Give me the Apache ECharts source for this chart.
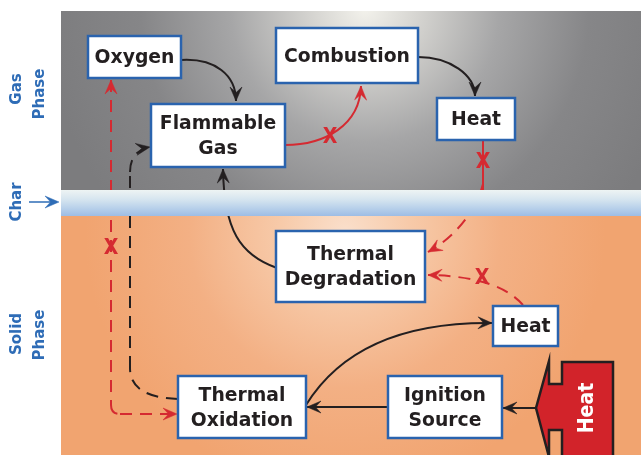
<!DOCTYPE html>
<html><head><meta charset="utf-8">
<script src="https://cdn.jsdelivr.net/npm/echarts@6/dist/echarts.min.js"></script>
<style>html,body{margin:0;padding:0;background:#fff}#c{width:641px;height:455px}</style>
</head><body><div id="c"></div><script>
// ---- diagram data ----
const phases = ['gas', 'char', 'solid'];
const phaseTop = [11, 190, 216];
const phaseBottom = [190, 216, 455];
const panelLeft = 61, panelRight = 641;

const boxNames = ['Oxygen', 'Flammable\nGas', 'Combustion', 'Heat', 'Thermal\nDegradation', 'Heat', 'Thermal\nOxidation', 'Ignition\nSource'];
const boxLeft = [88, 151, 276, 437, 276, 493, 178, 388];
const boxTop = [36, 104, 28, 98, 231, 306, 376, 376];
const boxRight = [181, 285, 418, 515, 425, 558, 306, 502];
const boxBottom = [78, 167, 83, 140, 302, 346, 438, 438];

const sideText = ['Gas', 'Phase', 'Char', 'Solid', 'Phase'];
const sideX = [17, 40, 17, 17, 40];
const sideY = [89, 94, 202, 334, 335];
const charPointer = [[29, 202], [59, 202]];

// connectors: kind, path segments (2 pts line, 3 quad, 4 cubic), arrowheads
const connectors = [
  { kind: 'flow', segs: [[[181, 60], [215, 58], [236, 75], [236, 101]]], heads: ['end'] },
  { kind: 'flow', segs: [[[418, 57], [450, 57], [475, 75], [475, 96]]], heads: ['end'] },
  { kind: 'blocked', segs: [[[285, 145], [325, 145], [360, 125], [361, 86]]], heads: ['end'] },
  { kind: 'blocked', segs: [[[483, 140], [483, 192]]], heads: [] },
  { kind: 'blockedDashed', segs: [[[483, 184], [478, 203], [462, 233], [428, 252]]], heads: ['end'] },
  { kind: 'blockedDashed', segs: [[[523, 305], [508, 288], [480, 276], [428, 275]]], heads: ['end'] },
  { kind: 'flow', segs: [[[277, 268], [240, 255], [224, 230], [223, 169]]], heads: ['end'] },
  { kind: 'flow', segs: [[[306, 405], [340, 350], [400, 322], [492, 323]]], heads: ['end'] },
  { kind: 'flow', segs: [[[389, 407], [307, 407]]], heads: ['end'] },
  { kind: 'flow', segs: [[[536, 408], [503, 408]]], heads: ['end'] },
  { kind: 'blockedDashed', segs: [[[111, 80], [111, 405]], [[111, 405], [111, 414], [120, 414]], [[120, 414], [177, 414]]], heads: ['start', 'end'] },
  { kind: 'flowDashed', segs: [[[178, 399], [150, 398], [130, 390], [130, 368]], [[130, 368], [130, 172]], [[130, 172], [130, 157], [138, 149], [150, 147]]], heads: ['end'] }
];

const blockX = [330, 483, 482, 111];
const blockY = [137, 162, 278, 248];

const bigHeatLabel = 'Heat';
const bigHeatX = [536, 549, 549, 562, 562, 613, 613, 562, 562, 549, 549];
const bigHeatY = [408, 361, 384, 384, 362, 362, 457, 457, 430, 430, 457];
const bigHeatTextPos = [588, 408];

// ---- styles ----
const RED = '#d52a31', BLACK = '#231f20', BLUE = '#2a63ae', LABEL_BLUE = '#2e6cb6';
const kindStyle = {
  flow: { color: BLACK, dash: null, width: 2 },
  flowDashed: { color: BLACK, dash: [12, 8], width: 2 },
  blocked: { color: RED, dash: null, width: 2 },
  blockedDashed: { color: RED, dash: [12, 8], width: 2 }
};
const FONT_FAMILY = '"DejaVu Sans", sans-serif';
const TEXT_STRETCH = 1.07;

const chart = echarts.init(document.getElementById('c'), null, { renderer: 'canvas' });

function arrowHead(tip, from, color) {
  let dx = tip[0] - from[0], dy = tip[1] - from[1];
  const len = Math.hypot(dx, dy) || 1; dx /= len; dy /= len;
  const nx = -dy, ny = dx, L = 14, W = 12;
  return {
    type: 'polygon',
    shape: { points: [
      tip,
      [tip[0] - dx * L + nx * W / 2, tip[1] - dy * L + ny * W / 2],
      [tip[0] - dx * L * 0.6, tip[1] - dy * L * 0.6],
      [tip[0] - dx * L - nx * W / 2, tip[1] - dy * L - ny * W / 2]
    ] },
    style: { fill: color, stroke: color, lineWidth: 0.5 }
  };
}

function segEl(p, st) {
  let shape, type;
  if (p.length === 2) { type = 'line'; shape = { x1: p[0][0], y1: p[0][1], x2: p[1][0], y2: p[1][1] }; }
  else if (p.length === 3) { type = 'bezierCurve'; shape = { x1: p[0][0], y1: p[0][1], cpx1: p[1][0], cpy1: p[1][1], x2: p[2][0], y2: p[2][1] }; }
  else { type = 'bezierCurve'; shape = { x1: p[0][0], y1: p[0][1], cpx1: p[1][0], cpy1: p[1][1], cpx2: p[2][0], cpy2: p[2][1], x2: p[3][0], y2: p[3][1] }; }
  return { type, shape, style: { stroke: st.color, lineWidth: st.width, lineDash: st.dash, fill: null, lineCap: 'butt' } };
}

const option = {
  animation: false,
  backgroundColor: '#ffffff',
  grid: { left: 0, right: 0, top: 0, bottom: 0 },
  xAxis: { type: 'value', min: 0, max: 641, show: false },
  yAxis: { type: 'value', min: 0, max: 455, inverse: true, show: false },
  series: [
    { // phase backgrounds
      type: 'custom', z: 1, silent: true,
      data: phases.filter(p => p !== 'char').map(p => [panelLeft, phaseTop[phases.indexOf(p)], phases.indexOf(p)]),
      renderItem(params, api) {
        const i = api.value(2);
        const a = api.coord([panelLeft, phaseTop[i]]), b = api.coord([panelRight, phaseBottom[i]]);
        let fill;
        if (phases[i] === 'gas') {
          const c = api.coord([365, 8]);
          fill = new echarts.graphic.RadialGradient(c[0], c[1], 320, [
            { offset: 0, color: '#f3f2ec' }, { offset: 0.15, color: '#d8d7d3' },
            { offset: 0.42, color: '#a6a6a7' }, { offset: 0.7, color: '#868688' }, { offset: 1, color: '#7c7c7e' }], true);
        } else {
          const c = api.coord([345, 232]);
          fill = new echarts.graphic.RadialGradient(c[0], c[1], 260, [
            { offset: 0, color: '#fadfcb' }, { offset: 0.25, color: '#f7caa9' },
            { offset: 0.6, color: '#f3b084' }, { offset: 1, color: '#f1a470' }], true);
        }
        return { type: 'rect', shape: { x: a[0], y: a[1], width: b[0] - a[0], height: b[1] - a[1] }, style: { fill } };
      }
    },
    { // connectors
      type: 'custom', z: 2, silent: true,
      data: connectors.map((c, i) => [c.segs[0][0][0], c.segs[0][0][1], i]),
      renderItem(params, api) {
        const c = connectors[api.value(2)];
        const st = kindStyle[c.kind];
        const children = [];
        const segsPx = c.segs.map(s => s.map(pt => api.coord(pt)));
        segsPx.forEach(p => children.push(segEl(p, st)));
        c.heads.forEach(h => {
          if (h === 'end') { const s = segsPx[segsPx.length - 1]; children.push(arrowHead(s[s.length - 1], s[s.length - 2], st.color)); }
          else { const s = segsPx[0]; children.push(arrowHead(s[0], s[1], st.color)); }
        });
        return { type: 'group', children };
      }
    },
    { // char band
      type: 'custom', z: 3, silent: true,
      data: [[panelLeft, phaseTop[1], 1]],
      renderItem(params, api) {
        const i = api.value(2);
        const a = api.coord([panelLeft, phaseTop[i]]), b = api.coord([panelRight, phaseBottom[i]]);
        return { type: 'rect', shape: { x: a[0], y: a[1], width: b[0] - a[0], height: b[1] - a[1] },
          style: { fill: new echarts.graphic.LinearGradient(0, 0, 0, 1, [
            { offset: 0, color: '#eef4f4' }, { offset: 0.4, color: '#d3e3ef' }, { offset: 1, color: '#9dbde5' }]) } };
      }
    },
    { // blocked marks
      type: 'custom', z: 4, silent: true,
      data: blockX.map((x, i) => [x, blockY[i]]),
      renderItem(params, api) {
        const p = api.coord([api.value(0), api.value(1)]);
        return { type: 'text', x: p[0], y: p[1], scaleY: 1.12,
          style: { text: 'X', x: 0, y: 0, align: 'center', verticalAlign: 'middle',
            fill: RED, fontSize: 19, fontWeight: 'bold', fontFamily: FONT_FAMILY } };
      }
    },
    { // big heat source arrow
      type: 'custom', z: 4, silent: true,
      data: [[bigHeatTextPos[0], bigHeatTextPos[1]]],
      renderItem(params, api) {
        const pts = bigHeatX.map((x, i) => api.coord([x, bigHeatY[i]]));
        const t = api.coord(bigHeatTextPos);
        return { type: 'group', children: [
          { type: 'polygon', shape: { points: pts }, style: { fill: '#d2232a', stroke: BLACK, lineWidth: 2.5, lineJoin: 'miter' } },
          { type: 'text', x: t[0], y: t[1], rotation: Math.PI / 2, scaleY: TEXT_STRETCH,
            style: { text: bigHeatLabel, x: 0, y: 0, align: 'center', verticalAlign: 'middle', fill: '#ffffff',
              fontSize: 19, fontWeight: 'bold', fontFamily: FONT_FAMILY } }
        ] };
      }
    },
    { // boxes
      type: 'custom', z: 5, silent: true,
      data: boxNames.map((n, i) => [boxLeft[i], boxTop[i], i]),
      renderItem(params, api) {
        const i = api.value(2);
        const a = api.coord([boxLeft[i], boxTop[i]]), b = api.coord([boxRight[i], boxBottom[i]]);
        return { type: 'group', children: [
          { type: 'rect', shape: { x: a[0], y: a[1], width: b[0] - a[0], height: b[1] - a[1] },
            style: { fill: '#ffffff', stroke: BLUE, lineWidth: 2.5 } },
          { type: 'text', x: (a[0] + b[0]) / 2, y: (a[1] + b[1]) / 2 + 1, scaleY: TEXT_STRETCH,
            style: { text: boxNames[i], x: 0, y: 0, align: 'center', verticalAlign: 'middle', fill: BLACK,
              fontSize: 18.8, fontWeight: 'bold', fontFamily: FONT_FAMILY, lineHeight: 23 } }
        ] };
      }
    },
    { // side labels
      type: 'custom', z: 6, silent: true,
      data: sideText.map((t, i) => [sideX[i], sideY[i], i]),
      renderItem(params, api) {
        const i = api.value(2);
        const p = api.coord([sideX[i], sideY[i]]);
        const children = [{ type: 'text', x: p[0], y: p[1], rotation: Math.PI / 2, scaleY: 1.1,
          style: { text: sideText[i], x: 0, y: 0, align: 'center', verticalAlign: 'middle', fill: LABEL_BLUE,
            fontSize: 15, fontWeight: 'bold', fontFamily: FONT_FAMILY } }];
        if (sideText[i] === 'Char') {
          const s = api.coord(charPointer[0]), e = api.coord(charPointer[1]);
          children.push({ type: 'line', shape: { x1: s[0], y1: s[1], x2: e[0] - 4, y2: e[1] }, style: { stroke: LABEL_BLUE, lineWidth: 1.5 } });
          children.push(arrowHead(e, s, LABEL_BLUE));
        }
        return { type: 'group', children };
      }
    }
  ]
};
chart.setOption(option);
</script></body></html>
